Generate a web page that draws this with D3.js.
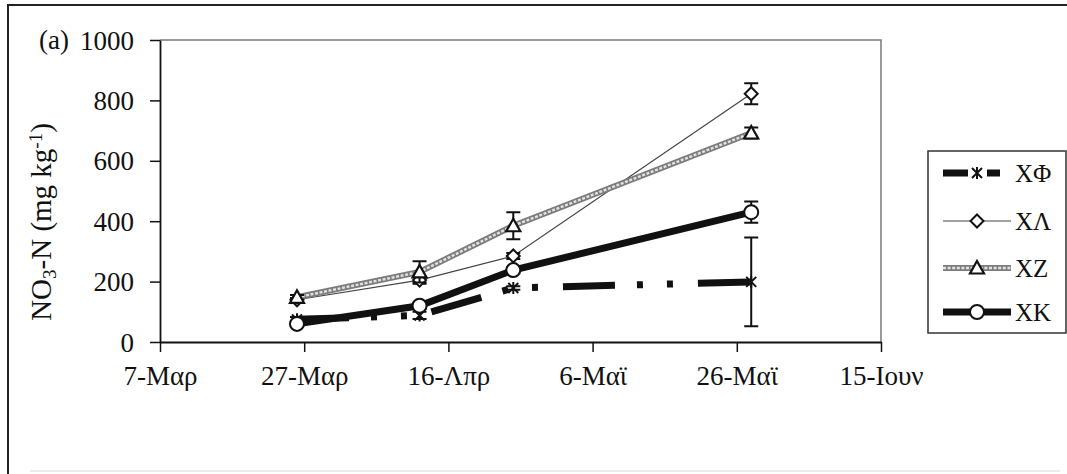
<!DOCTYPE html>
<html>
<head>
<meta charset="utf-8">
<script src="https://cdn.jsdelivr.net/npm/d3@7"></script>
<style>
  html, body { margin: 0; padding: 0; background: #fff; }
  svg { display: block; }
  text { font-family: "Liberation Serif", "DejaVu Serif", serif; fill: #111; }
</style>
</head>
<body>
<svg id="chart" width="1067" height="474"></svg>
<script>
// ---------------- DATA ----------------
const sampleDates = ["2010-03-26", "2010-04-12", "2010-04-25", "2010-05-28"];
const seriesNames = ["XΦ", "XΛ", "XZ", "XK"];
const xfValues = [75, 88, 179, 199];
const xfErrors = [8, 12, 6, 147];
const xlValues = [140, 205, 285, 822];
const xlErrors = [6, 12, 10, 35];
const xzValues = [148, 232, 385, 692];
const xzErrors = [8, 35, 45, 18];
const xkValues = [60, 120, 238, 430];
const xkErrors = [8, 10, 10, 35];
const xTickDates = ["2010-03-07", "2010-03-27", "2010-04-16", "2010-05-06", "2010-05-26", "2010-06-15"];
const xTickLabels = ["7-Μαρ", "27-Μαρ", "16-Λπρ", "6-Μαϊ", "26-Μαϊ", "15-Ιουν"];
const yTicks = [0, 200, 400, 600, 800, 1000];
const panelLabel = "(a)";

// ---------------- SETUP ----------------
const svg = d3.select("#chart");
const parse = d3.timeParse("%Y-%m-%d");
const plot = { left: 160, right: 881, top: 40, bottom: 342 };

const x = d3.scaleTime()
  .domain([parse(xTickDates[0]), parse(xTickDates[xTickDates.length - 1])])
  .range([plot.left, plot.right]);
const y = d3.scaleLinear().domain([0, 1000]).range([plot.bottom, plot.top]);

// outer frame
svg.append("rect").attr("x", 8).attr("y", 5).attr("width", 1070).attr("height", 480)
  .attr("fill", "#fff").attr("stroke", "#222").attr("stroke-width", 2);
svg.append("line").attr("x1", 30).attr("x2", 1060).attr("y1", 471).attr("y2", 471)
  .attr("stroke", "#ececec").attr("stroke-width", 2);

// plot border (top/right grey)
svg.append("path")
  .attr("d", `M${plot.left},${plot.top}H${plot.right}V${plot.bottom}`)
  .attr("fill", "none").attr("stroke", "#7a7a7a").attr("stroke-width", 1.5);

// axes
const xAxis = d3.axisBottom(x)
  .tickValues(xTickDates.map(parse))
  .tickFormat((d, i) => xTickLabels[i])
  .tickSize(10).tickSizeOuter(0);
const gx = svg.append("g").attr("transform", `translate(0,${plot.bottom})`).call(xAxis);
gx.select(".domain").attr("stroke", "#111").attr("stroke-width", 1.8);
gx.selectAll(".tick line").attr("stroke", "#111").attr("stroke-width", 1.5);
gx.selectAll(".tick text").attr("y", 43).attr("dy", "0")
  .style("font-family", '"Liberation Serif", serif').style("font-size", "27px").attr("fill", "#111");

const yAxis = d3.axisLeft(y).tickValues(yTicks).tickFormat(d3.format("d"))
  .tickSize(10).tickPadding(16).tickSizeOuter(0);
const gy = svg.append("g").attr("transform", `translate(${plot.left},0)`).call(yAxis);
gy.select(".domain").attr("stroke", "#111").attr("stroke-width", 1.8);
gy.selectAll(".tick line").attr("stroke", "#111").attr("stroke-width", 1.5);
gy.selectAll(".tick text").attr("dy", "0.34em")
  .style("font-family", '"Liberation Serif", serif').style("font-size", "27px").attr("fill", "#111");

// panel label
svg.append("text").attr("x", 39).attr("y", y(1000)).attr("dy", "0.34em")
  .style("font-size", "27px").text(panelLabel);

// y title
const yt = svg.append("text")
  .attr("transform", `translate(51,222) rotate(-90)`)
  .attr("text-anchor", "middle").style("font-size", "29px");
yt.append("tspan").text("NO");
yt.append("tspan").attr("baseline-shift", "-25%").style("font-size", "19px").text("3");
yt.append("tspan").text("-N (mg kg");
yt.append("tspan").attr("baseline-shift", "45%").style("font-size", "19px").text("-1");
yt.append("tspan").text(")");

// ---------------- SERIES ----------------
const dates = sampleDates.map(parse);
const mk = (vals, errs) => vals.map((v, i) => ({ date: dates[i], v, e: errs[i] }));
const series = [
  { name: seriesNames[0], data: mk(xfValues, xfErrors), style: "dashdot", marker: "asterisk" },
  { name: seriesNames[1], data: mk(xlValues, xlErrors), style: "thin", marker: "diamond" },
  { name: seriesNames[2], data: mk(xzValues, xzErrors), style: "hatched", marker: "triangle" },
  { name: seriesNames[3], data: mk(xkValues, xkErrors), style: "thick", marker: "circle" }
];

const line = d3.line().x(d => x(d.date)).y(d => y(d.v));

function drawLine(g, pathD, style) {
  if (style === "dashdot") {
    g.append("path").attr("d", pathD).attr("fill", "none").attr("stroke", "#111")
      .attr("stroke-width", 7).attr("stroke-dasharray", "52,22,6,24,6,25");
  } else if (style === "thin") {
    g.append("path").attr("d", pathD).attr("fill", "none").attr("stroke", "#444").attr("stroke-width", 1.2);
  } else if (style === "hatched") {
    g.append("path").attr("d", pathD).attr("fill", "none").attr("stroke", "#7c7c7c").attr("stroke-width", 6);
    g.append("path").attr("d", pathD).attr("fill", "none").attr("stroke", "#e2e2e2")
      .attr("stroke-width", 2.4).attr("stroke-dasharray", "3,1.6");
  } else {
    g.append("path").attr("d", pathD).attr("fill", "none").attr("stroke", "#111").attr("stroke-width", 7);
  }
}

function drawMarker(g, cx, cy, type) {
  const m = g.append("g").attr("transform", `translate(${cx},${cy})`);
  if (type === "asterisk") {
    m.append("path").attr("d", "M0,-6V6M-5,-5L5,5M-5,5L5,-5")
      .attr("stroke", "#111").attr("stroke-width", 2).attr("fill", "none");
  } else if (type === "diamond") {
    m.append("path").attr("d", "M0,-6.5L6.5,0L0,6.5L-6.5,0Z")
      .attr("fill", "#fff").attr("stroke", "#111").attr("stroke-width", 2);
  } else if (type === "triangle") {
    m.append("path").attr("d", "M0,-7L7,5.5L-7,5.5Z")
      .attr("fill", "#fff").attr("stroke", "#111").attr("stroke-width", 2.2);
  } else {
    m.append("circle").attr("r", 7).attr("fill", "#fff").attr("stroke", "#111").attr("stroke-width", 2);
  }
}

series.forEach(s => {
  const g = svg.append("g");
  drawLine(g, line(s.data), s.style);
  s.data.forEach(d => {
    const cx = x(d.date), y1 = y(d.v + d.e), y2 = y(d.v - d.e);
    g.append("path").attr("d", `M${cx},${y1}V${y2}M${cx - 7},${y1}H${cx + 7}M${cx - 7},${y2}H${cx + 7}`)
      .attr("stroke", "#111").attr("stroke-width", 2).attr("fill", "none");
  });
  s.data.forEach(d => drawMarker(g, x(d.date), y(d.v), s.marker));
});

// ---------------- LEGEND ----------------
const lg = svg.append("g");
lg.append("rect").attr("x", 928).attr("y", 151).attr("width", 138).attr("height", 182)
  .attr("fill", "#fff").attr("stroke", "#333").attr("stroke-width", 1.5);
const legY = [173, 221, 268, 312];
series.forEach((s, i) => {
  const yy = legY[i];
  const gg = lg.append("g");
  if (s.style === "dashdot") {
    gg.append("path").attr("d", `M943,${yy}H968M987,${yy}H1000`).attr("stroke", "#111").attr("stroke-width", 7);
  } else {
    drawLine(gg, `M943,${yy}H1011`, s.style);
  }
  drawMarker(gg, 977, yy, s.marker);
  gg.append("text").attr("x", 1015).attr("y", yy).attr("dy", "0.34em")
    .style("font-size", "25px").text(s.name);
});
</script>
</body>
</html>
